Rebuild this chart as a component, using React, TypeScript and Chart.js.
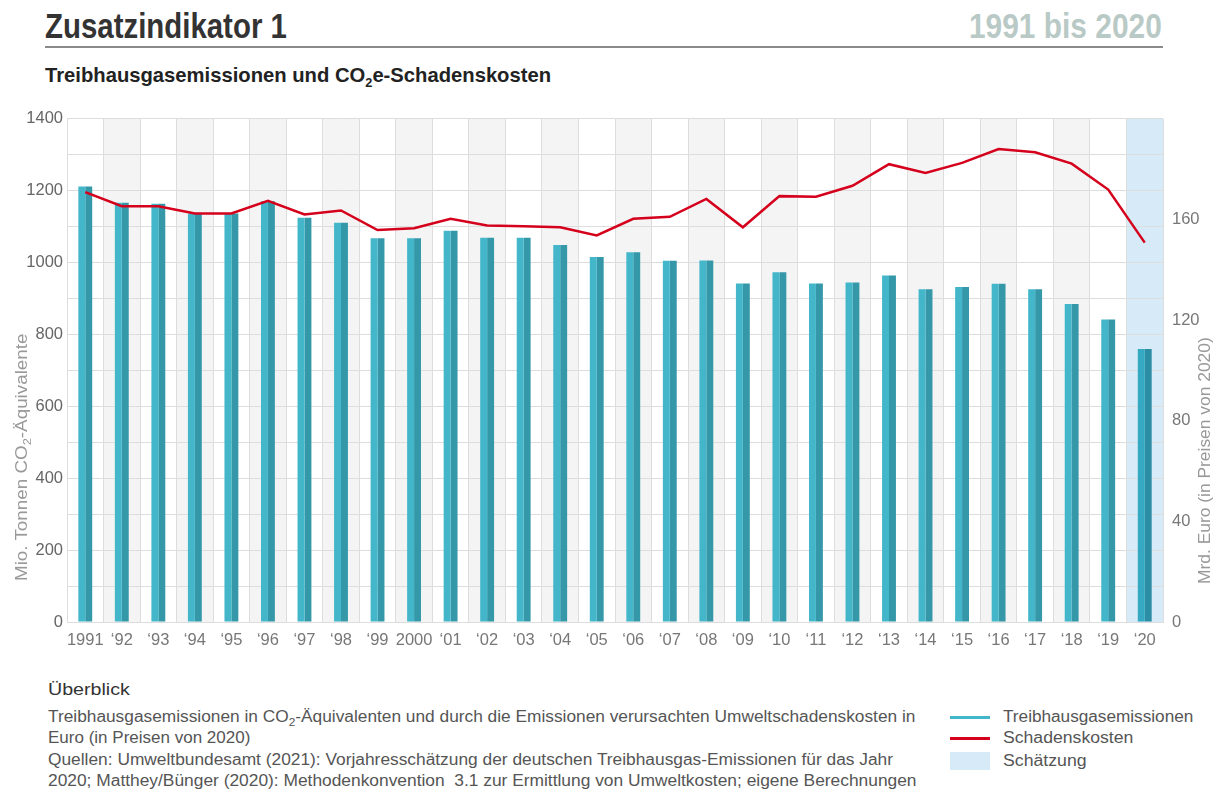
import React, { useEffect, useLayoutEffect, useRef } from "react";
import { Chart, registerables } from "chart.js";

Chart.register(...registerables);

const years = [
  "1991", "‘92", "‘93", "‘94", "‘95", "‘96", "‘97", "‘98", "‘99", "2000",
  "‘01", "‘02", "‘03", "‘04", "‘05", "‘06", "‘07", "‘08", "‘09", "‘10",
  "‘11", "‘12", "‘13", "‘14", "‘15", "‘16", "‘17", "‘18", "‘19", "‘20",
];

const emissions = [
  1212, 1167, 1164, 1137, 1137, 1171, 1125, 1111, 1068, 1068,
  1089, 1069, 1069, 1049, 1016, 1029, 1005, 1006, 942, 973,
  942, 945, 964, 926, 932, 941, 926, 885, 842, 760,
];

const damageCosts = [
  170.9, 165.3, 165.3, 162.4, 162.4, 167.4, 162.0, 163.6, 155.8, 156.5,
  160.3, 157.6, 157.3, 156.9, 153.7, 160.3, 161.1, 168.2, 156.9, 169.3,
  169.1, 173.4, 182.0, 178.5, 182.5, 188.0, 186.7, 182.2, 171.9, 150.8,
];

const estimateIndex = 29;

const leftTicksMax = 1400;
const rightTicksMax = 200;

const FONT = "'Liberation Sans',Arial,sans-serif";

const backgroundPlugin = {
  id: "columnShading",
  beforeDraw(chart: any) {
    const { ctx, chartArea, scales } = chart;
    const x = scales.x;
    const n = years.length;
    const w = (chartArea.right - chartArea.left) / n;
    ctx.save();
    for (let i = 0; i < n; i++) {
      const cx = x.getPixelForValue(i);
      let color: string | null = null;
      if (i === estimateIndex) color = "#d6eaf7";
      else if (i % 2 === 1) color = "#f4f4f4";
      if (color) {
        ctx.fillStyle = color;
        ctx.fillRect(cx - w / 2, chartArea.top, w, chartArea.bottom - chartArea.top);
      }
    }
    ctx.restore();
  },
};

function ChartView() {
  const ref = useRef<HTMLCanvasElement>(null);
  useEffect(() => {
    if (!ref.current) return;
    const tickFont = { family: FONT, size: 16.5 };
    const chart = new Chart(ref.current, {
      type: "bar",
      data: {
        labels: years,
        datasets: [
          {
            type: "line",
            label: "Schadenskosten",
            data: damageCosts,
            yAxisID: "y2",
            borderColor: "#d4001c",
            borderWidth: 2.5,
            pointRadius: 0,
            tension: 0,
            order: 0,
          } as any,
          {
            type: "bar",
            label: "Treibhausgasemissionen",
            data: emissions,
            yAxisID: "y",
            backgroundColor: (c: any) => (c.dataIndex === estimateIndex ? "#35a8c2" : "#43b6ca"),
            barPercentage: 1,
            categoryPercentage: 0.38,
            order: 1,
          },
          {
            type: "bar",
            label: "Treibhausgasemissionen (dunkel)",
            data: emissions,
            yAxisID: "y",
            backgroundColor: (c: any) => (c.dataIndex === estimateIndex ? "#2b8ea5" : "#3598a9"),
            barPercentage: 1,
            categoryPercentage: 0.38,
            order: 1,
          },
        ],
      },
      options: {
        animation: false,
        responsive: true,
        maintainAspectRatio: false,
        layout: { padding: { top: 17, left: 0, right: 0, bottom: 0 } },
        plugins: { legend: { display: false }, tooltip: { enabled: false } },
        scales: {
          x: {
            offset: true,
            grid: { color: "#dddddd", offset: true, drawTicks: false },
            border: { color: "#dddddd" },
            ticks: {
              color: "#777777",
              font: tickFont,
              padding: 9,
              maxRotation: 0,
              autoSkip: false,
            },
            afterFit: (s: any) => { s.height = 38; },
          },
          y: {
            position: "left",
            min: 0,
            max: leftTicksMax,
            grid: { color: "#dddddd", drawTicks: false },
            border: { color: "#dddddd" },
            ticks: {
              stepSize: 100,
              color: "#666666",
              font: tickFont,
              padding: 4,
              callback: (v: any) => (Number(v) % 200 === 0 ? String(v) : ""),
            },
            afterFit: (s: any) => { s.width = 67; },
          },
          y2: {
            position: "right",
            min: 0,
            max: rightTicksMax,
            grid: { display: false, drawTicks: false },
            border: { display: false },
            ticks: {
              stepSize: 40,
              color: "#777777",
              font: tickFont,
              padding: 9,
              callback: (v: any) => (Number(v) === rightTicksMax ? "" : String(v)),
            },
            afterFit: (s: any) => { s.width = 58; },
          },
        },
      },
      plugins: [backgroundPlugin],
    });
    return () => chart.destroy();
  }, []);
  return <canvas ref={ref} />;
}

function FitText(props: { left: number; top: number; width: number; style?: React.CSSProperties; children: React.ReactNode }) {
  const ref = useRef<HTMLSpanElement>(null);
  useLayoutEffect(() => {
    const fit = () => {
      const el = ref.current;
      if (!el) return;
      const w = el.offsetWidth;
      if (w > 0) el.style.transform = `scaleX(${props.width / w})`;
    };
    fit();
    if ((document as any).fonts && (document as any).fonts.ready) (document as any).fonts.ready.then(fit);
  });
  return (
    <span
      ref={ref}
      style={{
        position: "absolute",
        left: props.left,
        top: props.top,
        whiteSpace: "nowrap",
        display: "inline-block",
        transformOrigin: "0 50%",
        fontFamily: FONT,
        ...props.style,
      }}
    >
      {props.children}
    </span>
  );
}

const Sub = (p: { size: number; drop: number }) => (
  <sub style={{ fontSize: p.size, verticalAlign: -p.drop, lineHeight: 0 }}>2</sub>
);

export default function App() {
  useEffect(() => {
    document.body.style.margin = "0";
  }, []);
  const body: React.CSSProperties = { fontSize: 16, color: "#555", lineHeight: "20px" };
  const legend: React.CSSProperties = { fontSize: 16, color: "#555", lineHeight: "20px" };
  return (
    <div style={{ position: "relative", width: 1221, height: 792, background: "#fff", overflow: "hidden" }}>
      <FitText left={45} top={6} width={242} style={{ fontWeight: 700, fontSize: 35, color: "#333", lineHeight: "40px" }}>
        Zusatzindikator 1
      </FitText>
      <FitText left={969} top={6} width={193} style={{ fontWeight: 700, fontSize: 35, color: "#b9cac6", lineHeight: "40px" }}>
        1991 bis 2020
      </FitText>
      <div style={{ position: "absolute", left: 45, top: 46, width: 1118, height: 2, background: "#8a8a8a" }} />
      <FitText left={45} top={63} width={506} style={{ fontWeight: 700, fontSize: 20.5, color: "#222", lineHeight: "24px" }}>
        Treibhausgasemissionen und CO<Sub size={13} drop={5} />e-Schadenskosten
      </FitText>

      <div style={{ position: "absolute", left: 0, top: 100, width: 1221, height: 560 }}>
        <ChartView />
      </div>

      <div style={{ position: "absolute", left: 22, top: 458, width: 0, height: 0, transform: "rotate(-90deg)" }}>
        <FitText left={-123} top={-10} width={247} style={{ fontSize: 16, color: "#999", lineHeight: "20px" }}>
          Mio. Tonnen CO<Sub size={11} drop={4} />-Äquivalente
        </FitText>
      </div>
      <div style={{ position: "absolute", left: 1205, top: 461, width: 0, height: 0, transform: "rotate(-90deg)" }}>
        <FitText left={-123} top={-10} width={247} style={{ fontSize: 16, color: "#999", lineHeight: "20px" }}>
          Mrd. Euro (in Preisen von 2020)
        </FitText>
      </div>

      <FitText left={48} top={680} width={82} style={{ fontSize: 17, color: "#333", lineHeight: "20px" }}>
        Überblick
      </FitText>
      <FitText left={48} top={707} width={867} style={body}>
        Treibhausgasemissionen in CO<Sub size={11} drop={4} />-Äquivalenten und durch die Emissionen verursachten Umweltschadenskosten in
      </FitText>
      <FitText left={48} top={728} width={202} style={body}>
        Euro (in Preisen von 2020)
      </FitText>
      <FitText left={48} top={750} width={845} style={body}>
        Quellen: Umweltbundesamt (2021): Vorjahresschätzung der deutschen Treibhausgas-Emissionen für das Jahr
      </FitText>
      <FitText left={48} top={771} width={868} style={body}>
        2020; Matthey/Bünger (2020): Methodenkonvention&nbsp; 3.1 zur Ermittlung von Umweltkosten; eigene Berechnungen
      </FitText>

      <div style={{ position: "absolute", left: 950, top: 716, width: 40, height: 3, background: "#43b6ca" }} />
      <div style={{ position: "absolute", left: 950, top: 737, width: 40, height: 3, background: "#d4001c" }} />
      <div style={{ position: "absolute", left: 950, top: 752, width: 40, height: 18, background: "#d6eaf7" }} />
      <FitText left={1003} top={707} width={190} style={legend}>
        Treibhausgasemissionen
      </FitText>
      <FitText left={1003} top={728} width={130} style={legend}>
        Schadenskosten
      </FitText>
      <FitText left={1003} top={751} width={84} style={legend}>
        Schätzung
      </FitText>
    </div>
  );
}
